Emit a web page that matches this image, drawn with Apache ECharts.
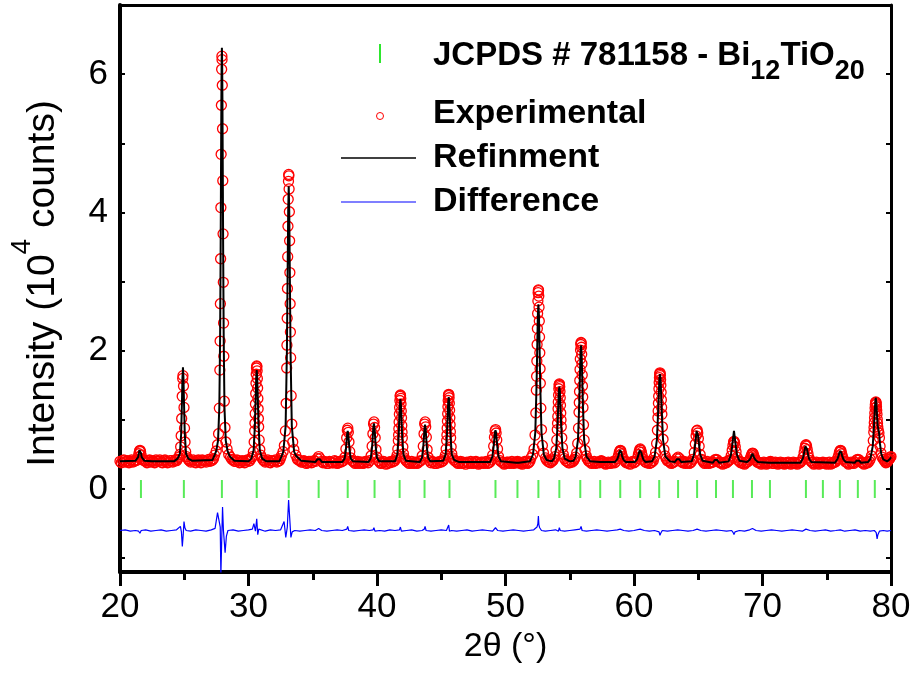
<!DOCTYPE html>
<html><head><meta charset="utf-8">
<script src="https://cdn.jsdelivr.net/npm/echarts@6/dist/echarts.min.js"></script>
<style>html,body{margin:0;padding:0;background:#fff}#c{width:914px;height:673px}</style>
</head><body><div id="c"></div>
<script>
// ---- data ----
const xRange = [20, 80];
const yRange = [-1.2, 7];
const yTickLabels = [0, 2, 4, 6];
const yTickMarks = [-1, 0, 1, 2, 3, 4, 5, 6];
const xTitle = '2θ (°)';
const yTitleParts = ['Intensity (10', '4', ' counts)'];
const phaseParts = ['JCPDS # 781158 - Bi', '12', 'TiO', '20'];
const legendNames = ['Experimental', 'Refinment', 'Difference'];

// reference reflection positions (green ticks), 2theta
const reflections = [21.63,24.97,27.93,30.64,33.13,35.46,37.72,39.81,41.76,43.70,45.64,49.22,50.93,52.56,54.19,55.82,57.37,58.93,60.48,61.96,63.43,64.91,66.38,67.70,69.18,70.58,73.38,74.70,76.02,77.42,78.74];

// experimental points [2theta, intensity/1e4]
const observed = [
[20.0,0.40],[20.1,0.38],[20.2,0.41],[20.3,0.42],[20.4,0.39],[20.5,0.40],[20.6,0.41],[20.7,0.38],[20.8,0.40],[20.9,0.42],[21.0,0.39],[21.1,0.40],
[21.21,0.41],[21.33,0.42],[21.41,0.46],[21.47,0.51],[21.52,0.55],[21.56,0.56],[21.60,0.54],[21.65,0.49],[21.71,0.44],[21.79,0.42],[21.91,0.41],
[22.0,0.40],[22.1,0.38],[22.2,0.41],[22.3,0.42],[22.4,0.39],[22.5,0.41],[22.6,0.40],[22.7,0.38],[22.8,0.42],[22.9,0.40],[23.0,0.40],[23.1,0.42],[23.2,0.39],[23.3,0.38],[23.4,0.41],[23.5,0.42],[23.6,0.40],[23.7,0.38],[23.8,0.39],[23.9,0.41],[24.0,0.41],[24.1,0.39],[24.2,0.40],[24.3,0.42],[24.4,0.41],
[24.48,0.43],[24.58,0.46],[24.66,0.50],[24.72,0.61],[24.76,0.77],[24.80,1.02],[24.84,1.34],[24.88,1.60],[24.90,1.64],[24.94,1.49],[24.98,1.18],[25.02,0.88],[25.06,0.68],[25.11,0.54],[25.18,0.47],[25.27,0.44],
[25.35,0.42],[25.4,0.41],[25.5,0.39],[25.6,0.40],[25.7,0.42],[25.8,0.39],[25.9,0.38],[26.0,0.41],[26.1,0.42],[26.2,0.40],[26.3,0.38],[26.4,0.42],[26.5,0.41],[26.6,0.40],[26.7,0.39],[26.8,0.41],[26.9,0.43],[27.0,0.40],[27.1,0.41],[27.2,0.42],[27.28,0.44],
[27.36,0.49],[27.49,0.55],[27.59,0.64],[27.67,0.80],[27.73,1.17],[27.77,1.72],[27.79,2.14],[27.81,2.68],[27.83,3.33],[27.85,4.07],[27.87,4.84],[27.89,5.55],[27.91,6.07],[27.93,6.26],[27.94,6.21],[27.96,5.84],[27.98,5.21],[28.00,4.46],[28.02,3.69],[28.04,2.99],[28.06,2.40],[28.08,1.92],[28.12,1.27],[28.17,0.89],[28.24,0.68],[28.33,0.58],[28.46,0.50],[28.60,0.46],
[28.7,0.43],[28.8,0.42],[28.9,0.40],[29.0,0.40],[29.1,0.42],[29.2,0.41],[29.3,0.38],[29.4,0.39],[29.5,0.41],[29.6,0.40],[29.7,0.38],[29.8,0.41],[29.9,0.42],[30.0,0.40],[30.1,0.41],
[30.20,0.44],[30.30,0.47],[30.38,0.54],[30.44,0.68],[30.48,0.84],[30.50,0.95],[30.52,1.09],[30.54,1.23],[30.56,1.38],[30.58,1.53],[30.60,1.66],[30.62,1.75],[30.64,1.78],[30.65,1.77],[30.67,1.71],[30.69,1.60],[30.71,1.46],[30.73,1.31],[30.75,1.16],[30.77,1.02],[30.79,0.90],[30.83,0.71],[30.88,0.57],[30.95,0.49],[31.04,0.45],
[31.15,0.42],[31.2,0.41],[31.3,0.39],[31.4,0.40],[31.5,0.42],[31.6,0.39],[31.7,0.38],[31.8,0.41],[31.9,0.40],[32.0,0.40],[32.1,0.42],[32.2,0.39],[32.3,0.40],[32.4,0.41],[32.48,0.44],
[32.56,0.48],[32.69,0.54],[32.79,0.63],[32.87,0.84],[32.93,1.24],[32.97,1.75],[32.99,2.08],[33.01,2.47],[33.03,2.90],[33.05,3.36],[33.07,3.80],[33.09,4.19],[33.11,4.45],[33.13,4.55],[33.14,4.53],[33.16,4.34],[33.18,4.01],[33.20,3.59],[33.22,3.13],[33.24,2.68],[33.26,2.27],[33.28,1.90],[33.32,1.35],[33.37,0.94],[33.44,0.68],[33.53,0.57],[33.68,0.49],
[33.8,0.43],[33.9,0.42],[34.0,0.41],[34.1,0.39],[34.2,0.39],[34.3,0.41],[34.4,0.40],[34.5,0.37],[34.6,0.38],[34.7,0.40],[34.8,0.40],[34.9,0.38],[35.0,0.39],[35.1,0.41],
[35.22,0.40],[35.36,0.44],[35.46,0.47],[35.56,0.44],[35.70,0.40],
[35.8,0.38],[35.9,0.40],[36.0,0.39],[36.1,0.37],[36.2,0.37],[36.3,0.40],[36.4,0.39],[36.5,0.38],[36.6,0.38],[36.7,0.41],[36.8,0.40],[36.9,0.37],[37.0,0.38],[37.1,0.40],[37.2,0.39],[37.28,0.40],
[37.38,0.41],[37.50,0.46],[37.58,0.58],[37.64,0.74],[37.69,0.85],[37.73,0.88],[37.77,0.82],[37.82,0.68],[37.88,0.54],[37.96,0.45],[38.08,0.41],
[38.15,0.40],[38.2,0.39],[38.3,0.37],[38.4,0.38],[38.5,0.40],[38.6,0.37],[38.7,0.39],[38.8,0.39],[38.9,0.37],[39.0,0.38],[39.1,0.40],[39.2,0.40],[39.3,0.38],
[39.42,0.41],[39.54,0.48],[39.62,0.62],[39.68,0.80],[39.73,0.94],[39.77,0.97],[39.81,0.89],[39.86,0.74],[39.92,0.57],[40.00,0.46],[40.12,0.41],
[40.2,0.39],[40.3,0.37],[40.4,0.38],[40.5,0.40],[40.6,0.39],[40.7,0.36],[40.8,0.37],[40.9,0.39],[41.0,0.38],[41.1,0.40],[41.2,0.39],[41.3,0.40],
[41.38,0.41],[41.48,0.44],[41.56,0.49],[41.62,0.58],[41.66,0.70],[41.68,0.78],[41.70,0.87],[41.72,0.97],[41.74,1.08],[41.76,1.18],[41.78,1.28],[41.80,1.34],[41.82,1.36],[41.83,1.35],[41.85,1.31],[41.87,1.23],[41.89,1.13],[41.91,1.03],[41.93,0.92],[41.95,0.82],[41.97,0.74],[42.01,0.61],[42.06,0.51],[42.13,0.45],[42.22,0.42],
[42.3,0.40],[42.4,0.39],[42.5,0.37],[42.6,0.38],[42.7,0.40],[42.8,0.37],[42.9,0.38],[43.0,0.39],[43.1,0.37],[43.2,0.38],[43.3,0.40],
[43.40,0.41],[43.52,0.48],[43.60,0.62],[43.66,0.80],[43.71,0.94],[43.75,0.97],[43.79,0.90],[43.84,0.75],[43.90,0.57],[43.98,0.46],[44.10,0.41],
[44.2,0.38],[44.3,0.40],[44.4,0.39],[44.5,0.37],[44.6,0.37],[44.7,0.39],[44.8,0.38],[44.9,0.40],[45.0,0.39],[45.06,0.40],
[45.14,0.41],[45.24,0.44],[45.32,0.49],[45.38,0.58],[45.42,0.70],[45.44,0.78],[45.46,0.88],[45.48,0.98],[45.50,1.09],[45.52,1.19],[45.54,1.28],[45.56,1.35],[45.58,1.37],[45.59,1.36],[45.61,1.32],[45.63,1.24],[45.65,1.14],[45.67,1.03],[45.69,0.93],[45.71,0.83],[45.73,0.74],[45.77,0.61],[45.82,0.51],[45.89,0.45],[45.98,0.42],
[46.1,0.40],[46.2,0.39],[46.3,0.37],[46.4,0.38],[46.5,0.40],[46.6,0.37],[46.7,0.39],[46.8,0.38],[46.9,0.36],[47.0,0.39],[47.1,0.38],[47.2,0.37],[47.3,0.40],[47.4,0.38],[47.5,0.37],[47.6,0.39],[47.7,0.40],[47.8,0.38],[47.9,0.36],[48.0,0.37],[48.1,0.39],[48.2,0.39],[48.3,0.37],[48.4,0.38],[48.5,0.40],[48.6,0.37],[48.7,0.38],[48.8,0.39],
[48.88,0.42],[49.00,0.49],[49.08,0.62],[49.14,0.75],[49.19,0.84],[49.23,0.86],[49.27,0.81],[49.32,0.71],[49.38,0.58],[49.46,0.47],[49.58,0.41],
[49.7,0.39],[49.8,0.38],[49.9,0.36],[50.0,0.37],[50.1,0.39],[50.2,0.39],[50.3,0.37],[50.4,0.38],[50.5,0.40],[50.6,0.37],[50.7,0.38],[50.8,0.39],[50.87,0.38],[50.93,0.40],[51.0,0.38],[51.1,0.39],[51.2,0.37],[51.3,0.36],[51.4,0.38],[51.5,0.40],[51.6,0.39],[51.7,0.37],[51.8,0.38],[51.9,0.40],
[51.98,0.45],[52.12,0.50],[52.22,0.58],[52.30,0.78],[52.36,1.10],[52.40,1.43],[52.42,1.63],[52.44,1.85],[52.46,2.09],[52.48,2.32],[52.50,2.54],[52.52,2.72],[52.54,2.84],[52.56,2.88],[52.57,2.87],[52.59,2.79],[52.61,2.63],[52.63,2.43],[52.65,2.20],[52.67,1.97],[52.69,1.74],[52.71,1.53],[52.75,1.17],[52.80,0.86],[52.87,0.63],[52.96,0.52],[53.12,0.45],
[53.2,0.42],[53.3,0.40],[53.4,0.39],[53.5,0.38],[53.6,0.40],[53.68,0.41],
[53.75,0.43],[53.85,0.47],[53.93,0.56],[53.99,0.71],[54.03,0.86],[54.05,0.95],[54.07,1.05],[54.09,1.16],[54.11,1.26],[54.13,1.36],[54.15,1.45],[54.17,1.50],[54.19,1.52],[54.20,1.51],[54.22,1.48],[54.24,1.41],[54.26,1.32],[54.28,1.21],[54.30,1.10],[54.32,1.00],[54.34,0.90],[54.38,0.74],[54.43,0.60],[54.50,0.50],[54.59,0.44],
[54.7,0.41],[54.8,0.40],[54.9,0.38],[55.0,0.38],[55.1,0.40],[55.2,0.39],[55.3,0.41],[55.37,0.43],
[55.44,0.46],[55.54,0.52],[55.62,0.66],[55.68,0.88],[55.72,1.11],[55.74,1.25],[55.76,1.41],[55.78,1.57],[55.80,1.73],[55.82,1.88],[55.84,2.01],[55.86,2.09],[55.88,2.12],[55.89,2.11],[55.91,2.05],[55.93,1.95],[55.95,1.81],[55.97,1.65],[55.99,1.49],[56.01,1.33],[56.03,1.18],[56.07,0.93],[56.12,0.71],[56.19,0.56],[56.28,0.48],
[56.35,0.44],[56.45,0.41],[56.5,0.40],[56.6,0.39],[56.7,0.37],[56.8,0.38],[56.9,0.40],[57.0,0.37],[57.1,0.38],[57.2,0.39],[57.3,0.38],[57.35,0.40],[57.45,0.41],[57.55,0.40],[57.6,0.38],[57.7,0.38],[57.8,0.36],[57.9,0.37],[58.0,0.39],[58.1,0.38],[58.2,0.37],[58.3,0.39],[58.4,0.40],[58.5,0.38],
[58.59,0.40],[58.71,0.44],[58.79,0.48],[58.85,0.53],[58.90,0.55],[58.94,0.56],[58.98,0.55],[59.03,0.51],[59.09,0.47],[59.17,0.43],[59.29,0.40],
[59.35,0.40],[59.4,0.38],[59.5,0.39],[59.6,0.37],[59.7,0.36],[59.8,0.39],[59.9,0.40],[60.0,0.38],[60.07,0.39],
[60.14,0.40],[60.26,0.44],[60.34,0.50],[60.40,0.54],[60.45,0.57],[60.49,0.58],[60.53,0.56],[60.58,0.53],[60.64,0.48],[60.72,0.43],[60.84,0.40],
[60.9,0.39],[61.0,0.38],[61.1,0.40],[61.2,0.37],[61.3,0.38],[61.4,0.39],[61.5,0.41],
[61.58,0.46],[61.68,0.53],[61.76,0.66],[61.82,0.85],[61.86,1.03],[61.88,1.13],[61.90,1.24],[61.92,1.34],[61.94,1.45],[61.96,1.54],[61.98,1.61],[62.00,1.66],[62.02,1.68],[62.03,1.67],[62.05,1.64],[62.07,1.58],[62.09,1.50],[62.11,1.40],[62.13,1.29],[62.15,1.18],[62.17,1.08],[62.21,0.90],[62.26,0.72],[62.33,0.57],[62.42,0.48],
[62.5,0.44],[62.6,0.41],[62.7,0.40],[62.8,0.39],[62.9,0.37],[63.0,0.38],[63.1,0.39],
[63.19,0.40],[63.33,0.44],[63.43,0.46],[63.53,0.44],[63.67,0.40],
[63.75,0.39],[63.8,0.38],[63.9,0.40],[64.0,0.37],[64.1,0.38],[64.2,0.39],[64.3,0.37],[64.4,0.38],[64.5,0.40],
[64.57,0.43],[64.69,0.53],[64.77,0.65],[64.83,0.77],[64.88,0.84],[64.92,0.85],[64.96,0.81],[65.01,0.73],[65.07,0.62],[65.15,0.50],[65.27,0.43],
[65.35,0.41],[65.4,0.39],[65.5,0.37],[65.6,0.38],[65.7,0.40],[65.8,0.37],[65.9,0.38],[66.0,0.38],[66.05,0.39],
[66.14,0.39],[66.28,0.42],[66.38,0.43],[66.48,0.42],[66.62,0.39],
[66.7,0.38],[66.8,0.38],[66.9,0.36],[67.0,0.37],[67.1,0.39],[67.2,0.38],[67.3,0.40],[67.36,0.41],
[67.44,0.42],[67.56,0.48],[67.64,0.56],[67.70,0.63],[67.75,0.68],[67.79,0.69],[67.83,0.67],[67.88,0.61],[67.94,0.54],[68.02,0.46],[68.14,0.41],
[68.22,0.40],[68.3,0.38],[68.4,0.39],[68.5,0.37],[68.6,0.36],[68.7,0.38],[68.8,0.39],
[68.88,0.40],[69.00,0.42],[69.08,0.46],[69.14,0.49],[69.19,0.51],[69.23,0.52],[69.27,0.51],[69.32,0.48],[69.38,0.45],[69.46,0.42],[69.58,0.39],
[69.65,0.39],[69.7,0.38],[69.8,0.38],[69.9,0.36],[70.0,0.37],[70.1,0.39],[70.2,0.38],[70.3,0.36],[70.4,0.37],[70.45,0.38],[70.52,0.39],[70.62,0.40],[70.72,0.39],[70.8,0.37],[70.9,0.37],[71.0,0.39],[71.1,0.38],[71.2,0.36],[71.3,0.37],[71.4,0.39],[71.5,0.38],[71.6,0.37],[71.7,0.36],[71.8,0.38],[71.9,0.37],[72.0,0.39],[72.1,0.38],[72.2,0.36],[72.3,0.37],[72.4,0.39],[72.5,0.38],[72.6,0.37],[72.7,0.36],[72.8,0.38],[72.9,0.38],[72.97,0.39],
[73.04,0.41],[73.16,0.46],[73.24,0.53],[73.30,0.59],[73.35,0.63],[73.39,0.64],[73.43,0.62],[73.48,0.57],[73.54,0.51],[73.62,0.45],[73.74,0.41],
[73.82,0.39],[73.9,0.38],[74.0,0.36],[74.1,0.37],[74.2,0.39],[74.3,0.38],[74.4,0.36],[74.5,0.37],[74.6,0.38],[74.7,0.39],[74.8,0.38],[74.9,0.37],[75.0,0.36],[75.1,0.38],[75.2,0.39],[75.3,0.36],[75.4,0.37],[75.5,0.38],[75.6,0.39],[75.66,0.39],
[75.72,0.40],[75.84,0.44],[75.92,0.48],[75.98,0.53],[76.03,0.55],[76.07,0.56],[76.11,0.55],[76.16,0.51],[76.22,0.47],[76.30,0.43],[76.42,0.40],
[76.5,0.39],[76.6,0.38],[76.7,0.36],[76.8,0.37],[76.9,0.39],[77.0,0.38],[77.1,0.37],
[77.18,0.39],[77.32,0.42],[77.42,0.43],[77.52,0.42],[77.66,0.39],
[77.75,0.38],[77.8,0.38],[77.9,0.36],[78.0,0.37],[78.1,0.39],[78.2,0.38],[78.3,0.40],
[78.38,0.43],[78.48,0.48],[78.56,0.57],[78.62,0.70],[78.66,0.82],[78.68,0.89],[78.70,0.96],[78.72,1.03],[78.74,1.10],[78.76,1.17],[78.78,1.22],[78.80,1.25],[78.82,1.26],[78.83,1.25],[78.85,1.23],[78.87,1.19],[78.89,1.14],[78.91,1.08],[78.93,1.01],[78.95,0.95],[78.97,0.90],[79.01,0.85],[79.06,0.81],[79.10,0.74],[79.15,0.62],[79.22,0.52],[79.30,0.46],[79.40,0.43],
[79.5,0.41],[79.55,0.40],[79.6,0.38],[79.7,0.39],[79.75,0.40],[79.8,0.42],[79.85,0.43],[79.9,0.44],[79.95,0.46],[80.0,0.47]
];

// refined (calculated) profile
const refinement = [
[20.0,0.40],[21.21,0.41],[21.41,0.46],[21.47,0.52],[21.51,0.56],[21.55,0.58],[21.59,0.56],[21.63,0.52],[21.69,0.46],[21.89,0.41],[22.5,0.40],[24.2,0.40],
[24.48,0.44],[24.66,0.51],[24.76,0.80],[24.82,1.25],[24.86,1.60],[24.90,1.76],[24.94,1.60],[24.98,1.25],[25.04,0.80],[25.14,0.51],[25.32,0.44],[25.6,0.41],[27.2,0.42],
[27.36,0.49],[27.49,0.55],[27.63,0.70],[27.73,1.18],[27.79,2.18],[27.83,3.39],[27.86,4.54],[27.89,5.66],[27.91,6.18],[27.93,6.38],[27.95,6.18],[27.97,5.66],[28.00,4.54],[28.03,3.39],[28.07,2.18],[28.13,1.18],[28.23,0.70],[28.37,0.55],[28.55,0.47],[28.9,0.41],[30.0,0.40],
[30.22,0.44],[30.40,0.56],[30.50,0.93],[30.56,1.34],[30.60,1.60],[30.64,1.72],[30.68,1.60],[30.72,1.34],[30.78,0.93],[30.88,0.56],[31.06,0.44],[31.4,0.40],[32.4,0.40],
[32.56,0.47],[32.71,0.54],[32.89,0.91],[32.99,2.01],[33.05,3.24],[33.09,4.03],[33.13,4.38],[33.17,4.03],[33.21,3.24],[33.27,2.01],[33.37,0.91],[33.55,0.54],[33.70,0.48],[34.1,0.41],[35.2,0.39],
[35.36,0.43],[35.46,0.45],[35.56,0.43],[35.72,0.39],[37.30,0.39],
[37.48,0.44],[37.58,0.57],[37.64,0.71],[37.68,0.80],[37.72,0.84],[37.76,0.80],[37.80,0.71],[37.86,0.57],[37.96,0.44],[38.14,0.40],[39.34,0.39],
[39.52,0.45],[39.62,0.61],[39.68,0.79],[39.72,0.90],[39.76,0.95],[39.80,0.90],[39.84,0.79],[39.90,0.61],[40.00,0.45],[40.18,0.40],[41.40,0.40],
[41.58,0.50],[41.68,0.75],[41.74,1.04],[41.78,1.22],[41.82,1.30],[41.86,1.22],[41.90,1.04],[41.96,0.75],[42.06,0.50],[42.24,0.41],[43.32,0.39],
[43.50,0.45],[43.60,0.60],[43.66,0.77],[43.70,0.88],[43.74,0.93],[43.78,0.88],[43.82,0.77],[43.88,0.60],[43.98,0.45],[44.16,0.40],[45.16,0.41],
[45.34,0.50],[45.44,0.77],[45.50,1.06],[45.54,1.25],[45.58,1.33],[45.62,1.25],[45.66,1.06],[45.72,0.77],[45.82,0.50],[46.00,0.42],[46.4,0.39],[48.80,0.39],
[48.98,0.47],[49.08,0.62],[49.14,0.74],[49.18,0.82],[49.22,0.85],[49.26,0.82],[49.30,0.74],[49.36,0.62],[49.46,0.47],[49.64,0.40],[50.83,0.38],[50.93,0.40],[51.03,0.38],[51.9,0.40],
[52.14,0.50],[52.32,0.82],[52.42,1.53],[52.48,2.16],[52.52,2.52],[52.56,2.67],[52.60,2.52],[52.64,2.16],[52.70,1.53],[52.80,0.82],[52.98,0.50],[53.2,0.42],[53.6,0.40],
[53.77,0.44],[53.95,0.59],[54.05,0.93],[54.11,1.23],[54.15,1.41],[54.19,1.48],[54.23,1.41],[54.27,1.23],[54.33,0.93],[54.43,0.59],[54.61,0.44],[55.0,0.40],[55.3,0.41],
[55.46,0.47],[55.64,0.71],[55.74,1.23],[55.80,1.70],[55.84,1.97],[55.88,2.08],[55.92,1.97],[55.96,1.70],[56.02,1.23],[56.12,0.71],[56.30,0.47],[56.6,0.40],[57.35,0.39],[57.45,0.41],[57.55,0.39],[58.51,0.39],
[58.69,0.43],[58.79,0.48],[58.85,0.53],[58.89,0.55],[58.93,0.56],[58.97,0.55],[59.01,0.53],[59.07,0.48],[59.17,0.43],[59.35,0.39],[60.06,0.39],
[60.24,0.43],[60.34,0.49],[60.40,0.53],[60.44,0.56],[60.48,0.57],[60.52,0.56],[60.56,0.53],[60.62,0.49],[60.72,0.43],[60.90,0.39],[61.4,0.40],
[61.60,0.47],[61.78,0.71],[61.88,1.12],[61.94,1.43],[61.98,1.60],[62.02,1.66],[62.06,1.60],[62.10,1.43],[62.16,1.12],[62.26,0.71],[62.44,0.47],[62.8,0.40],[63.19,0.39],
[63.33,0.43],[63.43,0.45],[63.53,0.43],[63.67,0.39],[64.49,0.40],
[64.67,0.50],[64.77,0.66],[64.83,0.77],[64.87,0.84],[64.91,0.86],[64.95,0.84],[64.99,0.77],[65.05,0.66],[65.15,0.50],[65.33,0.41],[66.14,0.38],
[66.28,0.42],[66.38,0.43],[66.48,0.42],[66.62,0.38],[67.36,0.40],
[67.54,0.49],[67.64,0.62],[67.70,0.72],[67.74,0.78],[67.78,0.84],[67.82,0.78],[67.86,0.72],[67.92,0.62],[68.02,0.49],[68.20,0.41],[68.80,0.39],
[68.98,0.42],[69.08,0.45],[69.14,0.48],[69.18,0.50],[69.22,0.51],[69.26,0.50],[69.30,0.48],[69.36,0.45],[69.46,0.42],[69.64,0.39],[70.52,0.38],[70.62,0.40],[70.72,0.38],[72.96,0.38],
[73.14,0.44],[73.24,0.52],[73.30,0.58],[73.34,0.62],[73.38,0.63],[73.42,0.62],[73.46,0.58],[73.52,0.52],[73.62,0.44],[73.80,0.39],[75.64,0.38],
[75.82,0.43],[75.92,0.48],[75.98,0.52],[76.02,0.54],[76.06,0.55],[76.10,0.54],[76.14,0.52],[76.20,0.48],[76.30,0.43],[76.48,0.39],[77.18,0.38],
[77.32,0.41],[77.42,0.42],[77.52,0.41],[77.66,0.38],[78.22,0.39],
[78.40,0.44],[78.58,0.62],[78.68,0.92],[78.74,1.15],[78.78,1.27],[78.81,1.32],[78.86,1.25],[78.90,1.10],[78.96,0.92],[79.04,0.84],[79.08,0.80],[79.14,0.66],[79.24,0.51],[79.40,0.43],[79.7,0.40],[79.9,0.43],[80.0,0.46]
];

// difference curve (offset below zero)
const difference = [
[20.0,-0.60],[20.4,-0.59],[20.8,-0.61],[21.2,-0.60],[21.45,-0.61],[21.55,-0.64],[21.65,-0.60],[22.0,-0.59],[22.4,-0.61],[22.8,-0.60],[23.2,-0.59],[23.6,-0.61],[24.0,-0.60],[24.4,-0.59],
[24.70,-0.54],[24.78,-0.62],[24.85,-0.83],[24.92,-0.66],[24.98,-0.47],[25.05,-0.56],[25.15,-0.60],[25.5,-0.61],[25.9,-0.59],[26.3,-0.60],[26.7,-0.61],[27.1,-0.59],
[27.4,-0.57],[27.59,-0.34],[27.70,-0.45],[27.80,-0.55],[27.85,-1.25],[27.90,-0.85],[27.98,-0.26],[28.05,-0.60],[28.18,-0.92],[28.28,-0.68],[28.40,-0.60],
[28.8,-0.59],[29.2,-0.61],[29.6,-0.60],[30.0,-0.59],[30.3,-0.58],[30.42,-0.50],[30.54,-0.61],[30.64,-0.43],[30.72,-0.66],[30.80,-0.58],[30.95,-0.60],
[31.3,-0.61],[31.7,-0.59],[32.1,-0.60],[32.5,-0.59],[32.77,-0.47],[32.90,-0.70],[33.02,-0.55],[33.12,-0.16],[33.20,-0.40],[33.30,-0.70],[33.40,-0.62],[33.6,-0.60],
[34.0,-0.61],[34.4,-0.60],[34.8,-0.59],[35.2,-0.60],[35.46,-0.57],[35.7,-0.60],[36.1,-0.61],[36.5,-0.60],[36.9,-0.59],[37.3,-0.60],[37.65,-0.58],[37.72,-0.54],[37.80,-0.60],
[38.2,-0.61],[38.6,-0.60],[39.0,-0.59],[39.4,-0.60],[39.70,-0.59],[39.76,-0.56],[39.84,-0.61],[40.2,-0.60],[40.6,-0.61],[41.0,-0.59],[41.4,-0.60],[41.75,-0.59],[41.82,-0.55],[41.90,-0.61],
[42.3,-0.60],[42.7,-0.59],[43.1,-0.61],[43.5,-0.60],[43.68,-0.58],[43.74,-0.54],[43.82,-0.60],[44.2,-0.61],[44.6,-0.60],[45.0,-0.59],[45.4,-0.60],[45.52,-0.58],[45.58,-0.52],[45.64,-0.61],[45.8,-0.60],
[46.2,-0.61],[46.6,-0.60],[47.0,-0.59],[47.4,-0.61],[47.8,-0.60],[48.2,-0.59],[48.6,-0.60],[49.0,-0.61],[49.22,-0.56],[49.4,-0.60],[49.8,-0.61],[50.2,-0.60],[50.6,-0.59],[51.0,-0.60],[51.4,-0.61],[51.8,-0.60],
[52.2,-0.59],[52.45,-0.55],[52.52,-0.50],[52.56,-0.39],[52.60,-0.52],[52.66,-0.56],[52.8,-0.60],[53.1,-0.61],[53.5,-0.60],[53.9,-0.59],[54.12,-0.61],[54.19,-0.56],[54.26,-0.60],
[54.6,-0.61],[55.0,-0.60],[55.4,-0.59],[55.80,-0.58],[55.88,-0.54],[55.96,-0.60],[56.3,-0.61],[56.7,-0.60],[57.1,-0.59],[57.5,-0.60],[57.9,-0.61],[58.3,-0.60],[58.7,-0.59],[58.93,-0.58],[59.2,-0.60],
[59.6,-0.61],[60.0,-0.60],[60.48,-0.58],[60.8,-0.60],[61.2,-0.61],[61.6,-0.60],[61.95,-0.62],[62.02,-0.67],[62.08,-0.64],[62.2,-0.60],[62.6,-0.61],[63.0,-0.60],[63.4,-0.59],[63.8,-0.60],
[64.2,-0.61],[64.6,-0.60],[64.91,-0.58],[65.2,-0.60],[65.6,-0.61],[66.0,-0.60],[66.4,-0.59],[66.8,-0.60],[67.2,-0.61],[67.6,-0.60],[67.72,-0.63],[67.78,-0.66],[67.86,-0.62],[68.2,-0.60],
[68.6,-0.61],[69.0,-0.59],[69.22,-0.57],[69.5,-0.60],[69.9,-0.61],[70.3,-0.60],[70.7,-0.59],[71.1,-0.60],[71.5,-0.61],[71.9,-0.60],[72.3,-0.59],[72.7,-0.60],[73.1,-0.61],[73.38,-0.58],[73.7,-0.60],
[74.1,-0.61],[74.5,-0.60],[74.9,-0.59],[75.3,-0.61],[75.7,-0.60],[76.06,-0.59],[76.4,-0.61],[76.8,-0.60],[77.2,-0.59],[77.6,-0.61],[78.0,-0.60],[78.4,-0.61],[78.7,-0.60],
[78.85,-0.63],[78.92,-0.72],[78.98,-0.66],[79.1,-0.61],[79.4,-0.60],[79.7,-0.61],[80.0,-0.60]
];

// ---- chart ----
const FONT = 'Liberation Sans';
const chart = echarts.init(document.getElementById('c'), null, {renderer: 'canvas'});
const tickLine = {color: '#000', width: 3};
const option = {
  animation: false,
  backgroundColor: '#fff',
  grid: {left: 119, right: 23, top: 5, bottom: 101, containLabel: false},
  xAxis: [{
    type: 'value', min: xRange[0], max: xRange[1], interval: 10, position: 'bottom',
    axisLine: {onZero: false, lineStyle: {color: '#000', width: 4}},
    axisTick: {inside: false, length: 14, lineStyle: tickLine},
    minorTick: {show: true, splitNumber: 2, length: 8, lineStyle: tickLine},
    splitLine: {show: false},
    axisLabel: {fontSize: 35, color: '#000', fontFamily: FONT, margin: 18},
    name: xTitle, nameLocation: 'middle', nameGap: 58,
    nameTextStyle: {fontSize: 34, color: '#000', fontFamily: FONT}
  }, {
    type: 'value', min: xRange[0], max: xRange[1], position: 'top',
    axisLine: {onZero: false, lineStyle: {color: '#000', width: 3}},
    axisTick: {show: false}, axisLabel: {show: false}, splitLine: {show: false}
  }],
  yAxis: [{
    type: 'value', min: yRange[0], max: yRange[1], position: 'left',
    axisLine: {onZero: false, lineStyle: {color: '#000', width: 4}},
    axisTick: {inside: true, length: 5, customValues: yTickMarks, lineStyle: {color: '#000', width: 2}},
    axisLabel: {customValues: yTickLabels, fontSize: 35, color: '#000', fontFamily: FONT, margin: 12},
    splitLine: {show: false},
    name: '{n|' + yTitleParts[0] + '}{p|' + yTitleParts[1] + '}{n|' + yTitleParts[2] + '}',
    nameLocation: 'middle', nameGap: 57,
    nameTextStyle: {
      color: '#000', fontFamily: FONT, fontSize: 39, padding: [0, 0, 0, 10],
      rich: {
        n: {fontSize: 39, fontFamily: FONT, color: '#000', lineHeight: 55, verticalAlign: 'bottom'},
        p: {fontSize: 28, fontFamily: FONT, color: '#000', lineHeight: 28, verticalAlign: 'top'}
      }
    }
  }, {
    type: 'value', min: yRange[0], max: yRange[1], position: 'right',
    axisLine: {onZero: false, lineStyle: {color: '#000', width: 3}},
    axisTick: {inside: true, length: 5, customValues: yTickMarks, lineStyle: {color: '#000', width: 2}},
    axisLabel: {show: false}, splitLine: {show: false}
  }],
  series: [{
    name: legendNames[0], type: 'scatter', data: observed,
    symbol: 'circle', symbolSize: 10, silent: true, z: 2,
    itemStyle: {color: 'rgba(0,0,0,0)', borderColor: '#ff0000', borderWidth: 1.3, opacity: 1}
  }, {
    name: legendNames[1], type: 'line', data: refinement, showSymbol: false, silent: true, z: 3,
    lineStyle: {color: '#000', width: 2}
  }, {
    name: legendNames[2], type: 'line', data: difference, showSymbol: false, silent: true, z: 3,
    lineStyle: {color: '#0000ff', width: 1.2}
  }, {
    name: 'reflections', type: 'scatter', data: reflections.map(p => [p, 0]),
    symbol: 'rect', symbolSize: [2, 18], silent: true, z: 2,
    itemStyle: {color: '#2ee62e'}
  }],
  graphic: [
    {type: 'rect', shape: {x: 379, y: 44, width: 2, height: 19}, style: {fill: '#2ee62e'}},
    {type: 'text', x: 433, y: 39, style: {
      text: '{m|' + phaseParts[0] + '}{s|' + phaseParts[1] + '}{m|' + phaseParts[2] + '}{s|' + phaseParts[3] + '}',
      fill: '#000', align: 'left', verticalAlign: 'top',
      rich: {
        m: {fontSize: 33, fontWeight: 'bold', fontFamily: FONT, fill: '#000', lineHeight: 40, verticalAlign: 'top'},
        s: {fontSize: 27, fontWeight: 'bold', fontFamily: FONT, fill: '#000', lineHeight: 46, verticalAlign: 'bottom'}
      }
    }},
    {type: 'circle', shape: {cx: 380, cy: 116, r: 3.5}, style: {fill: 'none', stroke: '#ff0000', lineWidth: 1}},
    {type: 'text', x: 433, y: 114, style: {text: legendNames[0], font: 'bold 34px "Liberation Sans"', fill: '#000', align: 'left', verticalAlign: 'middle'}},
    {type: 'line', shape: {x1: 341, y1: 158, x2: 416, y2: 158}, style: {stroke: '#000', lineWidth: 1.5}},
    {type: 'text', x: 433, y: 158, style: {text: legendNames[1], font: 'bold 34px "Liberation Sans"', fill: '#000', align: 'left', verticalAlign: 'middle'}},
    {type: 'line', shape: {x1: 341, y1: 202, x2: 416, y2: 202}, style: {stroke: '#0000ff', lineWidth: 1.2}},
    {type: 'text', x: 433, y: 202, style: {text: legendNames[2], font: 'bold 34px "Liberation Sans"', fill: '#000', align: 'left', verticalAlign: 'middle'}}
  ]
};
chart.setOption(option);
</script>
</body></html>
